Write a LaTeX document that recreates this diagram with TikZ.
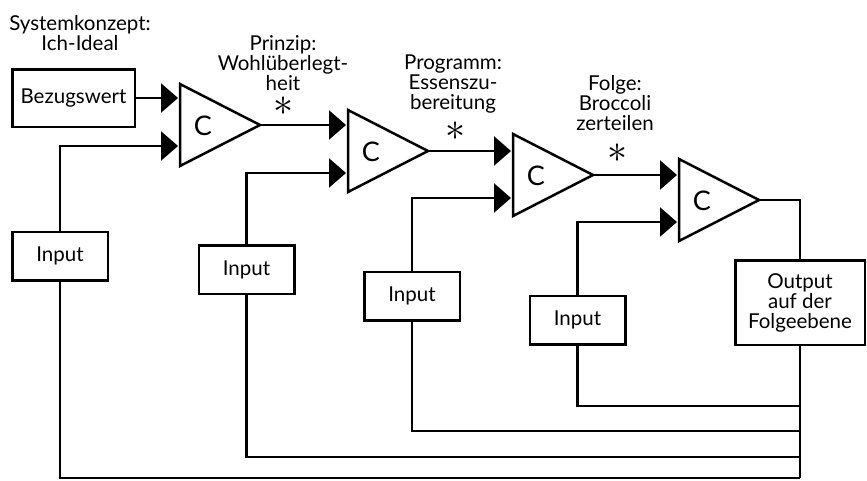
\documentclass[tikz,border=0pt]{standalone}
\usepackage{fontspec}
\usepackage{graphicx}
\setmainfont{Lato}
\usetikzlibrary{arrows.meta}
\newcommand{\bigstar}{\smash{\raisebox{-10pt}{\scalebox{4}{$\ast$}}}}
\begin{document}
\begin{tikzpicture}[x=1pt,y=-1pt, line width=2.5pt, line join=miter,
  box/.style={draw, inner sep=0pt, font=\fontsize{20.5}{20}\selectfont, align=center},
  lbl/.style={inner sep=0pt, font=\fontsize{20.5}{20}\selectfont, align=center, anchor=north},
  star/.style={inner sep=0pt},
  cnode/.style={inner sep=0pt, font=\fontsize{27}{27}\selectfont},
  arr/.style={-{Triangle[length=17pt,width=29pt]}}]
\useasboundingbox (0,0) rectangle (867,480);
% boxes
\node[box, minimum width=122.5pt, minimum height=57.5pt] (bez) at (73.5,98) {Bezugswert};
\node[box, minimum width=95.5pt, minimum height=48.5pt] (in1) at (60,256) {Input};
\node[box, minimum width=95.5pt, minimum height=48.5pt] (in2) at (246.5,269.5) {Input};
\node[box, minimum width=95.5pt, minimum height=48.5pt] (in3) at (412,296) {Input};
\node[box, minimum width=95.5pt, minimum height=48.5pt] (in4) at (577.5,320) {Input};
\node[box, minimum width=129.5pt, minimum height=84.5pt] (out) at (800,302.5) {Output\\auf der\\Folgeebene};
% triangles
\coordinate (t1a) at (180,84);  \coordinate (t1b) at (180,166); \coordinate (t1c) at (260,125);
\coordinate (t2a) at (348,110); \coordinate (t2b) at (348,192); \coordinate (t2c) at (428,151);
\coordinate (t3a) at (513,134); \coordinate (t3b) at (513,216); \coordinate (t3c) at (593,175);
\coordinate (t4a) at (679,159); \coordinate (t4b) at (679,241); \coordinate (t4c) at (759,200);
\foreach \i in {1,2,3,4} {\draw (t\i a) -- (t\i c) -- (t\i b) -- cycle;}
\node[cnode] (c1) at (203,126) {C};
\node[cnode] (c2) at (371,152) {C};
\node[cnode] (c3) at (536,176) {C};
\node[cnode] (c4) at (702,201) {C};
% input points
\coordinate (t1u) at (178,98);  \coordinate (t1l) at (178,146);
\coordinate (t2u) at (346,125); \coordinate (t2l) at (346,173);
\coordinate (t3u) at (511,151); \coordinate (t3l) at (511,198);
\coordinate (t4u) at (677,175); \coordinate (t4l) at (677,222);
% bottom junctions
\coordinate (b1) at (800,478);
\coordinate (b2) at (800,457);
\coordinate (b3) at (800,431);
\coordinate (b4) at (800,406);
% connectors
\draw[arr] (bez.east) -- (t1u);
\draw[arr] (t1c) -- (t2u);
\draw[arr] (t2c) -- (t3u);
\draw[arr] (t3c) -- (t4u);
\draw[arr] (in1.north) |- (t1l);
\draw[arr] (in2.north) |- (t2l);
\draw[arr] (in3.north) |- (t3l);
\draw[arr] (in4.north) |- (t4l);
\draw (t4c) -| (out.north);
\draw (out.south) -- (b1);
\draw (in1.south) |- (b1);
\draw (in2.south) |- (b2);
\draw (in3.south) |- (b3);
\draw (in4.south) |- (b4);
% labels
\node[lbl] (l0) at (80,14) {Systemkonzept:\\Ich-Ideal};
\node[lbl] (l1) at (283,34) {Prinzip:\\Wohlüberlegt-\\heit};
\node[lbl] (l2) at (453,54) {Programm:\\Essenszu-\\bereitung};
\node[lbl] (l3) at (615,74) {Folge:\\Broccoli\\zerteilen};
\node[star] (s1) at (283,105) {\bigstar};
\node[star] (s2) at (455,130) {\bigstar};
\node[star] (s3) at (617,152) {\bigstar};
\end{tikzpicture}
\end{document}
